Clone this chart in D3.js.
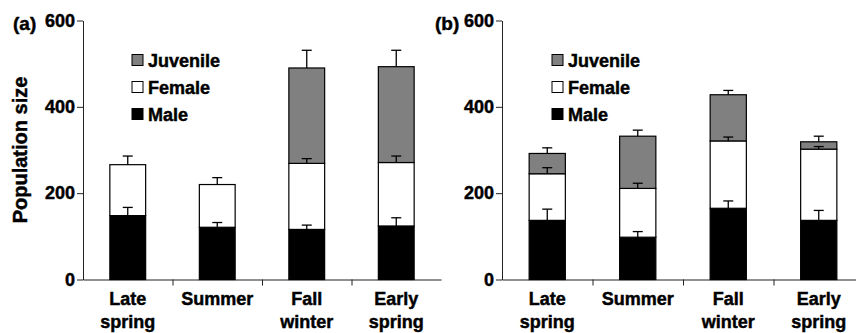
<!DOCTYPE html>
<html>
<head>
<meta charset="utf-8">
<script src="https://cdn.jsdelivr.net/npm/d3@7"></script>
<style>
  body { margin: 0; background: #fff; }
  svg { display: block; font-family: "Liberation Sans", Arial, sans-serif; font-weight: bold; }
  svg text { stroke: #000; stroke-width: 0.45px; paint-order: stroke; }
</style>
</head>
<body>
<svg id="chart"></svg>
<script>
const seasons = [["Late", "spring"], ["Summer"], ["Fall", "winter"], ["Early", "spring"]];
const groups = ["Male", "Female", "Juvenile"];
const yTicks = [0, 200, 400, 600];

// panel (a): segment values and upper error bar tops
const maleA = [148, 121, 116, 124];
const femaleA = [118, 99, 153, 147];
const juvenileA = [0, 0, 221, 222];
const maleErrA = [167, 132, 126, 143];
const femaleErrA = [286, 236, 280, 286];
const juvenileErrA = [null, null, 531, 531];

// panel (b)
const maleB = [137, 98, 165, 137];
const femaleB = [108, 113, 156, 165];
const juvenileB = [47, 121, 107, 17];
const maleErrB = [163, 111, 182, 160];
const femaleErrB = [259, 223, 330, 308];
const juvenileErrB = [305, 346, 438, 332];

const colors = {Male: "#000", Female: "#fff", Juvenile: "#808080"};

const W = 856, H = 333;
const svg = d3.select("#chart").attr("width", W).attr("height", H);

function panel(opts) {
  const {left, right, label, legendX, male, female, juvenile, errs} = opts;
  const g = svg.append("g");

  const y = d3.scaleLinear().domain([0, 600]).range([279.5, 20.5]);
  const x = d3.scaleBand().domain(d3.range(seasons.length)).range([left, right]).padding(0);
  const xi = d3.scaleLinear().domain([0, 4]).range([left, right]);
  const barW = x.bandwidth() * 0.4;

  g.append("g")
    .attr("transform", `translate(${left},0)`)
    .call(d3.axisLeft(y).tickValues(yTicks).tickSize(6).tickSizeOuter(0).tickPadding(2))
    .call(a => a.select(".domain").attr("stroke", "#222"))
    .call(a => a.selectAll(".tick line").attr("stroke", "#222"))
    .call(a => a.selectAll("text").attr("font-size", 18).attr("font-weight", "bold").attr("fill", "#000")
      .attr("font-family", "'Liberation Sans', Arial, sans-serif"));

  g.append("g")
    .attr("transform", `translate(0,${y(0)})`)
    .call(d3.axisBottom(xi).tickValues([1, 2, 3]).tickSize(6).tickSizeOuter(0).tickFormat(""))
    .call(a => a.select(".domain").attr("stroke", "#222"))
    .call(a => a.selectAll(".tick line").attr("stroke", "#222"));

  const series = seasons.map((s, i) => ({i, Male: male[i], Female: female[i], Juvenile: juvenile[i]}));
  const stacked = d3.stack().keys(groups)(series);

  stacked.forEach(layer => {
    g.selectAll(null)
      .data(layer.filter(d => d[1] > d[0]))
      .enter().append("rect")
      .attr("x", d => x(d.data.i) + (x.bandwidth() - barW) / 2)
      .attr("y", d => y(d[1]))
      .attr("width", barW)
      .attr("height", d => y(d[0]) - y(d[1]))
      .attr("fill", colors[layer.key])
      .attr("stroke", "#000")
      .attr("stroke-width", 1.2);
  });

  // upper error bars
  stacked.forEach((layer, k) => {
    layer.forEach((d, i) => {
      const top = errs[k][i];
      if (top == null || d[1] <= d[0]) return;
      const cx = x(i) + x.bandwidth() / 2;
      g.append("line").attr("x1", cx).attr("x2", cx)
        .attr("y1", y(d[1])).attr("y2", y(top))
        .attr("stroke", "#000").attr("stroke-width", 1.3);
      g.append("line").attr("x1", cx - 5).attr("x2", cx + 5)
        .attr("y1", y(top)).attr("y2", y(top))
        .attr("stroke", "#000").attr("stroke-width", 1.3);
    });
  });

  // category labels
  seasons.forEach((lines, i) => {
    const t = g.append("text")
      .attr("x", x(i) + x.bandwidth() / 2)
      .attr("y", 305)
      .attr("text-anchor", "middle")
      .attr("font-size", 18);
    lines.forEach((ln, j) => t.append("tspan")
      .attr("x", x(i) + x.bandwidth() / 2)
      .attr("dy", j === 0 ? 0 : 23)
      .text(ln));
  });

  // legend
  const legendRows = ["Juvenile", "Female", "Male"];
  legendRows.forEach((name, j) => {
    const cy = 60 + j * 27;
    g.append("rect")
      .attr("x", legendX).attr("y", cy - 5.5)
      .attr("width", 11).attr("height", 11)
      .attr("fill", colors[name]).attr("stroke", "#000").attr("stroke-width", 1);
    g.append("text")
      .attr("x", legendX + 16).attr("y", cy + 6.5)
      .attr("font-size", 18)
      .text(name);
  });

  g.append("text")
    .attr("x", opts.labelX).attr("y", 30)
    .attr("font-size", 19)
    .text(label);
}

panel({
  left: 83, right: 441, label: "(a)", labelX: 13, legendX: 132,
  male: maleA, female: femaleA, juvenile: juvenileA,
  errs: [maleErrA, femaleErrA, juvenileErrA]
});

panel({
  left: 502, right: 864, label: "(b)", labelX: 435, legendX: 552,
  male: maleB, female: femaleB, juvenile: juvenileB,
  errs: [maleErrB, femaleErrB, juvenileErrB]
});

svg.append("text")
  .attr("transform", "translate(27,150) rotate(-90)")
  .attr("text-anchor", "middle")
  .attr("font-size", 20)
  .text("Population size");
</script>
</body>
</html>
